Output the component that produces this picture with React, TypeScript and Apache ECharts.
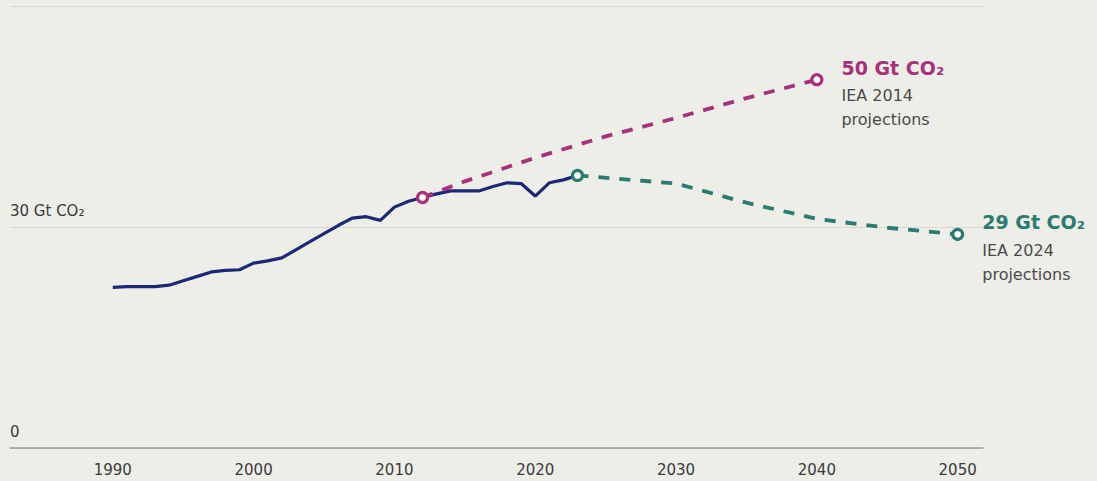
import React, { useEffect, useRef } from "react";
import * as echarts from "echarts";

// Global energy-related CO2 emissions, Gt CO2
const historyYears = [
  1990, 1991, 1992, 1993, 1994, 1995, 1996, 1997, 1998, 1999,
  2000, 2001, 2002, 2003, 2004, 2005, 2006, 2007, 2008, 2009,
  2010, 2011, 2012, 2013, 2014, 2015, 2016, 2017, 2018, 2019,
  2020, 2021, 2022, 2023,
];
const historyValues = [
  21.8, 21.9, 21.9, 21.9, 22.1, 22.7, 23.3, 23.9, 24.1, 24.2,
  25.1, 25.4, 25.8, 26.9, 28.0, 29.1, 30.2, 31.2, 31.4, 30.9,
  32.7, 33.5, 34.0, 34.5, 34.9, 34.9, 34.9, 35.5, 36.0, 35.9,
  34.2, 36.0, 36.4, 37.0,
];

// IEA World Energy Outlook 2014 projection
const iea2014Years = [2012, 2015, 2020, 2025, 2030, 2035, 2040];
const iea2014Values = [34.0, 36.2, 39.4, 42.3, 44.8, 47.5, 50];

// IEA World Energy Outlook 2024 projection
const iea2024Years = [2023, 2030, 2035, 2040, 2045, 2050];
const iea2024Values = [37.0, 35.9, 33.3, 31.1, 29.9, 29];

const xTickValues = [1990, 2000, 2010, 2020, 2030, 2040, 2050];
const yTickLabels: Record<number, string> = { 0: "0", 30: "30 Gt CO₂", 60: "" };

const NAVY = "#1c2877";
const MAGENTA = "#a8327a";
const TEAL = "#2c7a70";
const FONT = "'DejaVu Sans', 'Noto Sans', sans-serif";

function projectionData(
  years: number[],
  values: number[],
  color: string,
  title: string,
  subtitle: string
) {
  return years.map((y, i) => {
    const first = i === 0;
    const last = i === years.length - 1;
    const item: any = { value: [y, values[i]] };
    if (!first && !last) {
      item.symbol = "none";
    }
    if (last) {
      item.label = {
        show: true,
        position: "right",
        distance: 18,
        offset: [0, 12],
        formatter: `{t|${title}}\n{s|${subtitle}}\n{s|projections}`,
        rich: {
          t: {
            fontFamily: FONT,
            fontSize: 19,
            fontWeight: "bold",
            color,
            lineHeight: 32,
          },
          s: {
            fontFamily: FONT,
            fontSize: 16,
            color: "#4a4a4a",
            lineHeight: 24,
          },
        },
      };
    }
    return item;
  });
}

export default function App() {
  const ref = useRef<HTMLDivElement>(null);

  useEffect(() => {
    if (!ref.current) return;
    const chart = echarts.init(ref.current, undefined, { renderer: "svg" });

    chart.setOption({
      animation: false,
      backgroundColor: "#eeeee9",
      grid: { left: 10, right: 114, top: 6, bottom: 33, containLabel: false },
      xAxis: {
        type: "value",
        min: 1982.7,
        max: 2051.8,
        axisLine: { show: true, lineStyle: { color: "#9a9a96", width: 1.5 } },
        axisTick: { show: false },
        splitLine: { show: false },
        axisLabel: {
          customValues: xTickValues,
          margin: 14,
          fontFamily: FONT,
          fontSize: 15,
          color: "#3a3a3a",
          formatter: (v: number) => String(v),
        },
      },
      yAxis: {
        type: "value",
        min: 0,
        max: 60,
        interval: 30,
        axisLine: { show: false },
        axisTick: { show: false },
        splitLine: { show: true, lineStyle: { color: "#d9d9d3", width: 1 } },
        axisLabel: {
          inside: true,
          margin: 0,
          align: "left",
          verticalAlign: "bottom",
          padding: [0, 0, 9, 0],
          fontFamily: FONT,
          fontSize: 15,
          color: "#3a3a3a",
          formatter: (v: number) => yTickLabels[v] ?? "",
        },
      },
      series: [
        {
          name: "Historical",
          type: "line",
          data: historyYears.map((y, i) => [y, historyValues[i]]),
          symbol: "none",
          lineStyle: { color: NAVY, width: 3.2 },
          z: 3,
        },
        {
          name: "IEA 2014",
          type: "line",
          data: projectionData(iea2014Years, iea2014Values, MAGENTA, "50 Gt CO₂", "IEA 2014"),
          symbol: "circle",
          symbolSize: 10,
          showAllSymbol: true,
          itemStyle: { color: "#ffffff", borderColor: MAGENTA, borderWidth: 3.2 },
          lineStyle: { color: MAGENTA, width: 3.8, type: [11, 10] },
          z: 4,
        },
        {
          name: "IEA 2024",
          type: "line",
          data: projectionData(iea2024Years, iea2024Values, TEAL, "29 Gt CO₂", "IEA 2024"),
          symbol: "circle",
          symbolSize: 10,
          showAllSymbol: true,
          itemStyle: { color: "#ffffff", borderColor: TEAL, borderWidth: 3.2 },
          lineStyle: { color: TEAL, width: 3.8, type: [11, 10] },
          z: 4,
        },
      ],
    });

    return () => chart.dispose();
  }, []);

  return (
    <div
      ref={ref}
      style={{ position: "fixed", left: 0, top: 0, width: 1097, height: 481 }}
    />
  );
}
